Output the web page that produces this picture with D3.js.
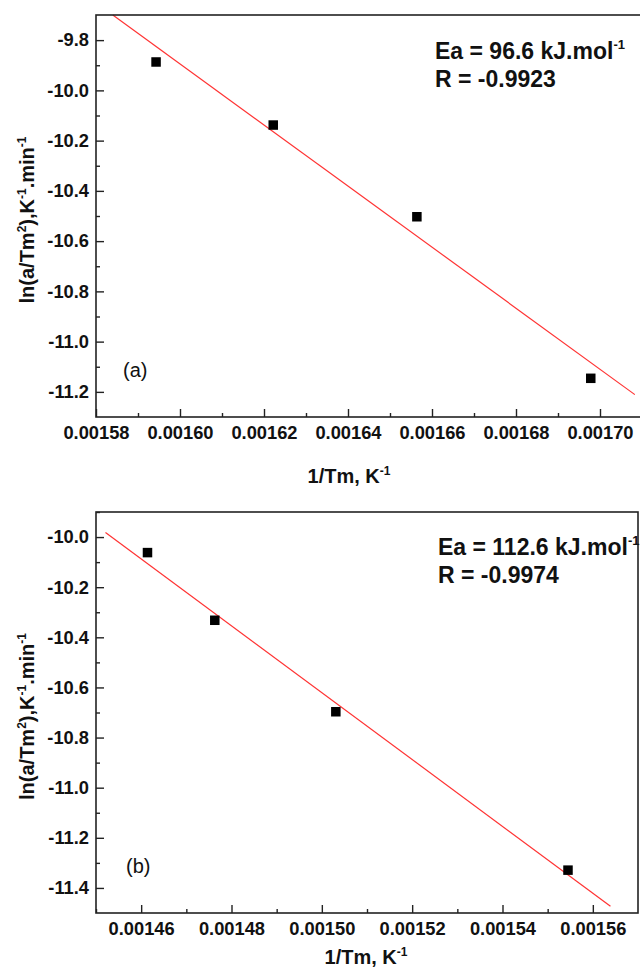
<!DOCTYPE html>
<html>
<head>
<meta charset="utf-8">
<script src="https://cdn.jsdelivr.net/npm/d3@7"></script>
<style>
  html, body { margin: 0; padding: 0; background: #fff; }
  svg { display: block; }
  text { font-family: "Liberation Sans", Arial, sans-serif; fill: #111; }
</style>
</head>
<body>
<svg id="chart" width="640" height="968"></svg>
<script>
// ---------- Panel (a) data ----------
const xA = [0.0015943, 0.0016222, 0.0016564, 0.0016978];
const yA = [-9.887, -10.138, -10.503, -11.146];
const fitXA = [0.001584, 0.0017083];
const fitYA = [-9.70, -11.211];
const xTicksA = [0.00158, 0.00160, 0.00162, 0.00164, 0.00166, 0.00168, 0.00170];
const xMinorA = [0.00159, 0.00161, 0.00163, 0.00165, 0.00167, 0.00169];
const yTicksA = [-9.8, -10.0, -10.2, -10.4, -10.6, -10.8, -11.0, -11.2];
const yMinorA = [-9.9, -10.1, -10.3, -10.5, -10.7, -10.9, -11.1];
const xDomA = [0.00158, 0.00171];
const yDomA = [-11.3, -9.7];
const eaA = "96.6";
const rA = "-0.9923";

// ---------- Panel (b) data ----------
const xB = [0.0014614, 0.0014763, 0.0015031, 0.0015545];
const yB = [-10.062, -10.332, -10.697, -11.329];
const fitXB = [0.0014521, 0.0015639];
const fitYB = [-9.982, -11.473];
const xTicksB = [0.00146, 0.00148, 0.00150, 0.00152, 0.00154, 0.00156];
const xMinorB = [0.00145, 0.00147, 0.00149, 0.00151, 0.00153, 0.00155];
const yTicksB = [-10.0, -10.2, -10.4, -10.6, -10.8, -11.0, -11.2, -11.4];
const yMinorB = [-9.9, -10.1, -10.3, -10.5, -10.7, -10.9, -11.1, -11.3];
const xDomB = [0.00145, 0.00157];
const yDomB = [-11.5, -9.9];
const eaB = "112.6";
const rB = "-0.9974";

const svg = d3.select("#chart");

function superText(sel, parts, baseSize, supSize) {
  const shift = baseSize * 0.42;
  let raised = false;
  sel.attr("font-size", baseSize);
  parts.forEach(p => {
    const ts = sel.append("tspan").text(p.t);
    if (p.sup) {
      ts.attr("font-size", supSize).attr("dy", -shift);
      raised = true;
    } else {
      ts.attr("font-size", baseSize);
      if (raised) { ts.attr("dy", shift); raised = false; }
    }
  });
}

function panel(cfg) {
  const x = d3.scaleLinear().domain(cfg.xDom).range([cfg.left, cfg.right]);
  const y = d3.scaleLinear().domain(cfg.yDom).range([cfg.bottom, cfg.top]);
  const g = svg.append("g");

  // fit line
  g.append("path")
    .datum(cfg.fitX.map((v, i) => [v, cfg.fitY[i]]))
    .attr("d", d3.line().x(d => x(d[0])).y(d => y(d[1])))
    .attr("fill", "none").attr("stroke", "#ff3333").attr("stroke-width", 1.2);

  // points
  const s = 9.5;
  g.selectAll("rect.pt").data(cfg.xs.map((v, i) => [v, cfg.ys[i]])).enter()
    .append("rect").attr("class", "pt")
    .attr("x", d => x(d[0]) - s / 2).attr("y", d => y(d[1]) - s / 2)
    .attr("width", s).attr("height", s).attr("fill", "#000");

  // axes
  const fmtX = d3.format(".5f");
  const fmtY = d3.format(".1f");
  const xAx = g.append("g").attr("transform", `translate(0,${cfg.bottom})`)
    .call(d3.axisBottom(x).tickValues(cfg.xTicks).tickFormat(fmtX).tickSize(-8).tickSizeOuter(0).tickPadding(8));
  const xMin = g.append("g").attr("transform", `translate(0,${cfg.bottom})`)
    .call(d3.axisBottom(x).tickValues(cfg.xMinor).tickFormat("").tickSize(-4).tickSizeOuter(0));
  xMin.selectAll("text").remove();
  const yAx = g.append("g").attr("transform", `translate(${cfg.left},0)`)
    .call(d3.axisLeft(y).tickValues(cfg.yTicks).tickFormat(fmtY).tickSize(-8).tickSizeOuter(0).tickPadding(7));
  const yMin = g.append("g").attr("transform", `translate(${cfg.left},0)`)
    .call(d3.axisLeft(y).tickValues(cfg.yMinor).tickFormat("").tickSize(-4).tickSizeOuter(0));
  yMin.selectAll("text").remove();

  g.selectAll(".domain").attr("stroke", "none");
  g.selectAll(".tick line").attr("stroke", "#222").attr("stroke-width", 1.4);
  xAx.selectAll("text").attr("font-size", 18.3).attr("font-weight", "bold")
    .attr("font-family", "'Liberation Sans', Arial, sans-serif").attr("fill", "#111")
    .attr("dy", "0.75em");
  yAx.selectAll("text").attr("font-size", 18.3).attr("font-weight", "bold")
    .attr("font-family", "'Liberation Sans', Arial, sans-serif").attr("fill", "#111");
  yAx.selectAll("text").text(d => fmtY(d).replace("\u2212", "-"));

  // frame
  g.append("rect").attr("x", cfg.left).attr("y", cfg.top)
    .attr("width", cfg.right - cfg.left).attr("height", cfg.bottom - cfg.top)
    .attr("fill", "none").attr("stroke", "#222").attr("stroke-width", 1.6);

  // annotation
  const t1 = g.append("text").attr("x", cfg.annX).attr("y", cfg.annY)
    .attr("font-weight", "bold");
  superText(t1, [{ t: `Ea = ${cfg.ea} kJ.mol` }, { t: "-1", sup: true }], 23, 13);
  g.append("text").attr("x", cfg.annX).attr("y", cfg.annY + 27.5)
    .attr("font-weight", "bold").attr("font-size", 23).text(`R = ${cfg.r}`);

  // panel label
  g.append("text").attr("x", cfg.lblX).attr("y", cfg.lblY)
    .attr("font-size", 20).text(cfg.lbl);

  // x title
  const xt = g.append("text").attr("x", cfg.xTitleX).attr("y", cfg.xTitleY)
    .attr("text-anchor", "middle").attr("font-weight", "bold");
  superText(xt, [{ t: "1/Tm, K" }, { t: "-1", sup: true }], 20, 12);

  // y title
  const yt = g.append("text")
    .attr("transform", `translate(34,${(cfg.top + cfg.bottom) / 2 + 4}) rotate(-90)`)
    .attr("text-anchor", "middle").attr("font-weight", "bold");
  superText(yt, [{ t: "ln(a/Tm" }, { t: "2", sup: true }, { t: "),K" }, { t: "-1", sup: true }, { t: ".min" }, { t: "-1", sup: true }], 20, 12);
}

panel({
  xs: xA, ys: yA, fitX: fitXA, fitY: fitYA,
  xTicks: xTicksA, xMinor: xMinorA, yTicks: yTicksA, yMinor: yMinorA,
  xDom: xDomA, yDom: yDomA,
  left: 96, right: 642, top: 15, bottom: 417,
  ea: eaA, r: rA, annX: 435, annY: 59,
  lbl: "(a)", lblX: 123, lblY: 377,
  xTitleX: 349, xTitleY: 483
});

panel({
  xs: xB, ys: yB, fitX: fitXB, fitY: fitYB,
  xTicks: xTicksB, xMinor: xMinorB, yTicks: yTicksB, yMinor: yMinorB,
  xDom: xDomB, yDom: yDomB,
  left: 96, right: 638, top: 512, bottom: 913,
  ea: eaB, r: rB, annX: 438, annY: 555,
  lbl: "(b)", lblX: 126, lblY: 873,
  xTitleX: 366, xTitleY: 964
});
</script>
</body>
</html>
